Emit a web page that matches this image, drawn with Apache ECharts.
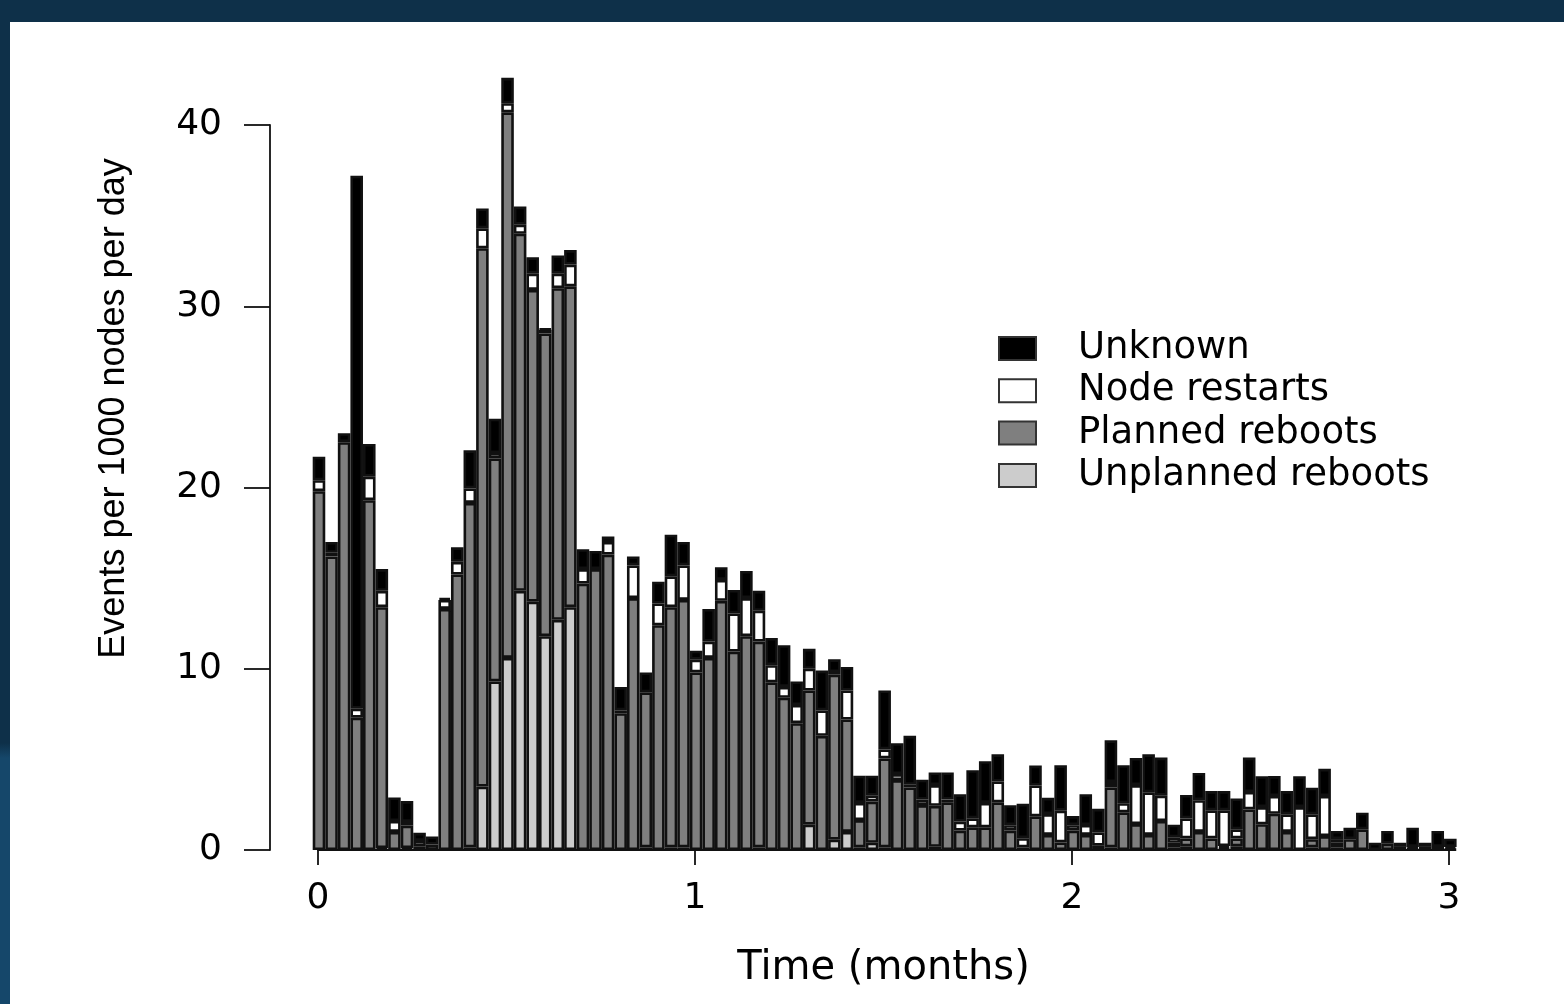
<!DOCTYPE html>
<html>
<head>
<meta charset="utf-8">
<script src="https://cdn.jsdelivr.net/npm/echarts@6.0.0/dist/echarts.min.js"></script>
<style>
  html, body { margin: 0; padding: 0; width: 1564px; height: 1004px; overflow: hidden;
    background: linear-gradient(to bottom, #0e3049 0%, #0e3049 74%, #15476a 75.5%, #15476a 100%); }
  #chart { position: absolute; left: 10px; top: 22px; width: 1554px; height: 982px; background: #ffffff; }
</style>
</head>
<body>
<div id="chart"></div>
<script>
// Day index (one bar per day, 30 days per month)
const days = Array.from({ length: 91 }, (_, i) => String(i));

// Series values (events per 1000 nodes per day)
const unplannedReboots = [
  0, 0, 0, 0, 0, 0.1, 0, 0.1, 0, 0,
  0, 0, 0.15, 3.5, 9.3, 10.6, 14.3, 13.7, 11.8, 12.7,
  13.4, 0, 0, 0, 0, 0, 0.15, 0, 0.15, 0.15,
  0, 0, 0, 0, 0, 0.15, 0, 0, 0, 1.4,
  0, 0.57, 1.0, 0.15, 0.4, 0.15, 0, 0, 0, 0.18,
  0, 0, 0, 0, 0, 0, 0, 0, 0, 0,
  0, 0, 0, 0.15, 0, 0, 0, 0, 0.15, 0.2,
  0, 0, 0.1, 0.2, 0, 0, 0, 0, 0, 0.15,
  0, 0.15, 0, 0, 0, 0, 0, 0, 0, 0,
  0
];
const plannedReboots = [
  19.8, 16.2, 22.5, 7.3, 19.3, 13.3, 1.0, 1.25, 0.2, 0.3,
  13.3, 15.2, 19.0, 29.7, 12.3, 30.1, 19.7, 17.2, 16.7, 18.3,
  17.7, 14.7, 15.5, 16.3, 7.55, 13.9, 8.55, 12.4, 13.25, 13.65,
  9.8, 10.6, 13.75, 10.95, 11.8, 11.35, 9.25, 8.4, 7.0, 7.4,
  6.3, 9.1, 6.2, 1.5, 2.27, 4.9, 3.86, 3.45, 2.48, 2.26,
  2.63, 1.07, 1.25, 1.25, 2.63, 1.07, 0.15, 1.86, 0.83, 0.42,
  1.07, 0.83, 0.24, 3.3, 2.08, 1.43, 0.83, 1.6, 0.25, 0.44,
  1.0, 0.64, 0.12, 0.44, 2.24, 1.42, 2.0, 1.0, 0, 0.45,
  0.77, 0.25, 0.6, 1.14, 0, 0.35, 0.17, 0.07, 0.17, 0.17,
  0.04
];
const nodeRestarts = [
  0.6, 0.2, 0, 0.5, 1.3, 0.9, 0.6, 0.2, 0.3, 0,
  0.5, 0.7, 0.8, 1.1, 0.3, 0.5, 0.5, 0.9, 0.2, 0.8,
  1.2, 0.8, 0, 0.7, 0.15, 1.8, 0, 1.2, 1.7, 1.9,
  0.7, 0.9, 1.15, 2.1, 2.1, 1.7, 0.95, 0.6, 1.0, 1.2,
  1.4, 0.15, 1.6, 0.95, 0.33, 0.5, 0.33, 0.15, 0.3, 1.14,
  0.15, 0.5, 0.5, 1.35, 1.15, 0.3, 0.5, 1.7, 1.15, 1.75,
  0.3, 0.55, 0.73, 0.3, 0.5, 2.15, 2.35, 1.4, 0.3, 1.1,
  1.75, 1.55, 1.97, 0.5, 0.96, 0.95, 0.98, 0.97, 2.37, 1.37,
  2.21, 0.2, 0, 0, 0, 0, 0, 0.1, 0, 0,
  0.13
];
const unknownEvents = [
  1.3, 0.6, 0.5, 29.4, 1.8, 1.2, 1.3, 1.15, 0.45, 0.45,
  0.1, 0.8, 2.1, 1.1, 1.9, 1.4, 1.0, 0.9, 0.05, 1.0,
  0.8, 1.1, 1.0, 0.3, 1.3, 0.5, 1.1, 1.2, 2.3, 1.3,
  0.5, 1.8, 0.7, 1.3, 1.5, 1.1, 1.5, 2.3, 1.3, 1.1,
  2.2, 0.7, 1.3, 1.5, 1.1, 3.25, 1.7, 2.7, 1.1, 0.7,
  1.5, 1.5, 2.65, 2.3, 1.5, 1.1, 1.9, 1.1, 0.9, 2.5,
  0.5, 1.7, 1.3, 2.3, 2.1, 1.5, 2.1, 2.1, 0.7, 1.3,
  1.5, 1.06, 1.06, 1.7, 1.9, 1.7, 1.1, 1.28, 1.7, 1.47,
  1.5, 0.45, 0.63, 0.92, 0.4, 0.7, 0.23, 1.06, 0.23, 0.88,
  0.45
];

// Tick labels
const monthTicks = [0, 1, 2, 3];
const yTicks = [0, 10, 20, 30, 40];

const seriesNames = ['Unknown', 'Node restarts', 'Planned reboots', 'Unplanned reboots'];
const seriesColors = { 'Unplanned reboots': '#cccccc', 'Planned reboots': '#7f7f7f', 'Node restarts': '#ffffff', 'Unknown': '#000000' };

const chart = echarts.init(document.getElementById('chart'), null, { renderer: 'canvas' });

function mk(name, values) {
  return {
    name: name,
    type: 'bar',
    stack: 'events',
    xAxisIndex: 0,
    yAxisIndex: 0,
    barCategoryGap: '0%',
    clip: false,
    data: values.map(v => (v === 0 ? '-' : v)),
    itemStyle: { color: seriesColors[name], borderColor: '#111111', borderWidth: 2.6 },
    emphasis: { disabled: true }
  };
}

const txt = "'DejaVu Sans', sans-serif";

chart.setOption({
  animation: false,
  backgroundColor: '#ffffff',
  grid: [
    { left: 302.7, width: 1143.9, top: 103, height: 725 },
    { left: 308, width: 1131, top: 103, height: 725 }
  ],
  legend: {
    data: seriesNames,
    orient: 'vertical',
    left: 983,
    top: 303,
    itemWidth: 37,
    itemHeight: 23,
    itemGap: 5.3,
    icon: 'rect',
    itemStyle: { borderColor: '#333333', borderWidth: 2 },
    textStyle: { fontFamily: txt, fontSize: 37, color: '#000000', padding: [0, 0, 0, 37] },
    selectedMode: false
  },
  xAxis: [
    { type: 'category', gridIndex: 0, data: days, show: false, boundaryGap: true },
    {
      type: 'value', gridIndex: 1, min: monthTicks[0], max: monthTicks[monthTicks.length - 1], interval: 1,
      position: 'bottom',
      axisLine: { show: true, onZero: false, lineStyle: { color: '#111111', width: 1.8 } },
      axisTick: { show: true, length: 15, lineStyle: { color: '#111111', width: 1.8 } },
      axisLabel: { margin: 31, fontFamily: txt, fontSize: 36, color: '#000000',
        formatter: v => (monthTicks.indexOf(v) >= 0 ? String(v) : '') },
      splitLine: { show: false },
      name: 'Time (months)',
      nameLocation: 'middle',
      nameGap: 99,
      nameTextStyle: { fontFamily: txt, fontSize: 40, color: '#000000' }
    }
  ],
  yAxis: [
    {
      type: 'value', gridIndex: 0, min: yTicks[0], max: yTicks[yTicks.length - 1], interval: 10,
      offset: 42.7,
      axisLine: { show: true, lineStyle: { color: '#111111', width: 1.8 } },
      axisTick: { show: true, length: 26, lineStyle: { color: '#111111', width: 1.8 } },
      axisLabel: { margin: 48, fontFamily: txt, fontSize: 36, color: '#000000' },
      splitLine: { show: false },
      name: 'Events per 1000 nodes per day',
      nameLocation: 'middle',
      nameRotate: 90,
      nameGap: 138,
      nameTextStyle: { fontFamily: "'Liberation Sans', Arial, sans-serif", fontSize: 36, color: '#000000', padding: [0, 0, 0, 158] }
    },
    { type: 'value', gridIndex: 1, min: 0, max: 40, show: false }
  ],
  series: [
    mk('Unplanned reboots', unplannedReboots),
    mk('Planned reboots', plannedReboots),
    mk('Node restarts', nodeRestarts),
    mk('Unknown', unknownEvents)
  ]
});
</script>
</body>
</html>
